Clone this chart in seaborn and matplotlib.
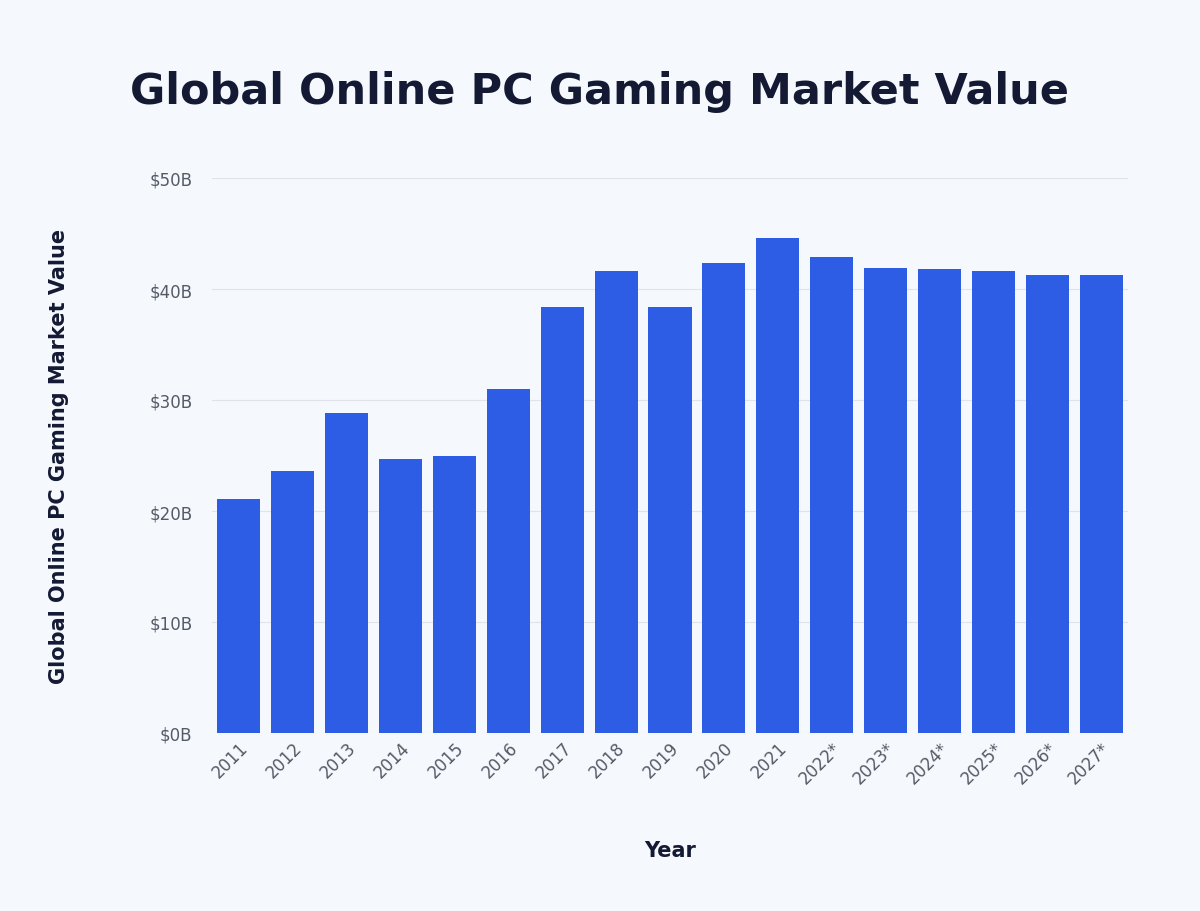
import matplotlib.pyplot as plt
import seaborn as sns
import pandas as pd

years = ["2011", "2012", "2013", "2014", "2015", "2016", "2017", "2018", "2019",
         "2020", "2021", "2022*", "2023*", "2024*", "2025*", "2026*", "2027*"]
values = [21.1, 23.6, 28.8, 24.7, 25.0, 31.0, 38.4, 41.6, 38.4,
          42.3, 44.6, 42.9, 41.9, 41.8, 41.6, 41.3, 41.3]
yticks = [0, 10, 20, 30, 40, 50]

df = pd.DataFrame({"Year": years, "Value": values})
bg = "#f5f9fe"

fig = plt.figure(figsize=(12, 9.12), dpi=100, facecolor=bg)
ax = fig.add_axes([212 / 1200, 1 - 734 / 912, 916 / 1200, 555 / 912], facecolor=bg)
sns.barplot(data=df, x="Year", y="Value", color="#2d5de5", saturation=1, width=0.8, ax=ax)

ax.set_ylim(0, 50)
ax.set_xlim(-0.5, len(years) - 0.5)
ax.set_yticks(yticks)
ax.set_yticklabels([f"${v}B" for v in yticks], fontsize=12, color="#555b66")
ax.tick_params(axis="x", rotation=45, labelsize=12, labelcolor="#555b66", length=0, pad=4)
ax.tick_params(axis="y", length=0, pad=14)
for lab in ax.get_xticklabels():
    lab.set_ha("right")
    lab.set_rotation_mode("anchor")
ax.grid(axis="y", color="#e0e4ea", linewidth=0.8)
ax.set_axisbelow(True)
for s in ax.spines.values():
    s.set_visible(False)

ax.set_xlabel("Year", fontsize=15, fontweight="bold", color="#141a33", labelpad=38)
ax.set_ylabel("Global Online PC Gaming Market Value", fontsize=15, fontweight="bold",
              color="#141a33", labelpad=58)
fig.text(0.5, 1 - 92 / 912, "Global Online PC Gaming Market Value", ha="center", va="center",
         fontsize=31, fontweight="bold", color="#141a33")

fig.savefig("out.png", dpi=100, facecolor=bg)
